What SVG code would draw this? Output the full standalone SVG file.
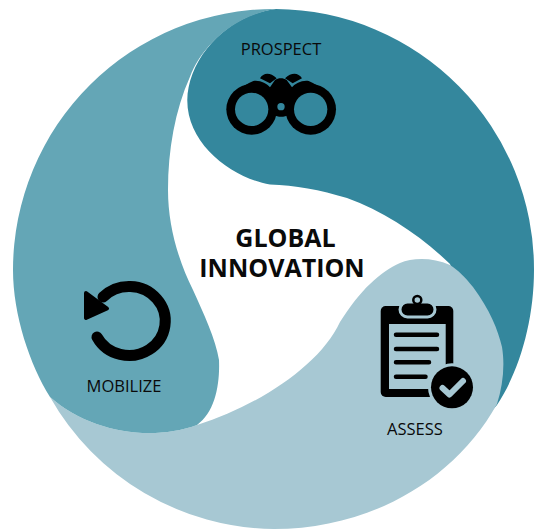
<svg xmlns="http://www.w3.org/2000/svg" width="535" height="529" viewBox="0 0 535 529">
<style>
text{font-family:"Open Sans","Liberation Sans",sans-serif;fill:#0a0a0a;text-anchor:middle}
.lab{font-size:16.500px;font-weight:500}
.title{font-size:25px;font-weight:700}
.ink{fill:#000}
.ln{stroke:#000;stroke-width:4.5;stroke-linecap:round;fill:none}
</style>
<g id="connectors"></g>
<g id="prospect">
<path d="M276 9A260 260 0 0 1 534 270C534 320 520 370 497 405L488 415L470 320L450 264C420 235 385 212 347 198C320 190 295 185 270 184.500C233 178 187 145 187.300 100C188 60 225 15 276 9Z" fill="#34879D"/>
<g id="binoculars-icon" transform="translate(170 0) scale(.33333)">
<path class="ink" d="M172 320C180 285 215 258 250 243C270 240 290 250 300 262L315 240C325 233 340 233 350 240L366 262C376 250 396 240 416 243C450 258 485 285 495 320L490 340L422 328L355 345C345 352 322 352 312 345L245 328L175 340Z"/>
<path class="ink" d="M270 235C280 218 300 216 320 235L300 250ZM345 235C365 216 385 218 396 235L368 250Z"/>
<circle cx="245" cy="328" r="76"/>
<circle cx="422" cy="328" r="76"/>
<circle cx="245" cy="328" r="50" fill="#34879D"/>
<circle cx="422" cy="328" r="50" fill="#34879D"/>
<circle cx="333" cy="320" r="11" fill="#34879D"/>
</g>
<text class="lab" x="281" y="55">PROSPECT</text>
</g>
<g id="assess">
<path d="M50 397A260 260 0 0 0 274 529C370 529 455 480 497 404C503 385 505 365 502 347C498 330 490 310 473 287C465 277 458 270 450 265C432 257 412 258 400 263C380 272 360 290 340 322C320 365 260 405 197 425C150 442 90 432 50 397Z" fill="#A7C8D3"/>
<rect x="380.700" y="306" width="72.600" height="91" rx="5" class="ink"/>
<rect x="389" y="324" width="56.700" height="65" style="fill:#A7C8D3"/>
<rect x="400" y="302" width="35" height="15" rx="7.500" class="ink" stroke="#A7C8D3" stroke-width="3"/>
<circle cx="417.300" cy="300" r="4" fill="none" stroke="#000" stroke-width="2.500"/>
<path class="ln" d="M396 334.700H437M396 349H437M396 362.300H429M396 376.700H425.500"/>
<circle cx="452" cy="387.300" r="24" fill="#A7C8D3"/>
<circle cx="452" cy="387.300" r="21"/>
<path d="M442.500 388L449.500 394.500L463 381" fill="none" stroke="#A7C8D3" stroke-width="6" stroke-linecap="round" stroke-linejoin="round"/>
<text class="lab" x="415" y="435">ASSESS</text>
</g>
<g id="mobilize">
<path d="M276 9A261 261 0 0 0 13 270C13 315 30 365 50 397C90 432 150 442 197 425C215 412 220 385 219 360C216 340 203 312 193 290C178 260 168 225 168 190C168 150 175 110 190 76.700C200 50 230 16 276 9Z" fill="#64A6B6"/>
<path d="M97 337A36.200 34.500 0 1 0 103 297" fill="none" stroke="#000" stroke-width="11" stroke-linecap="round"/>
<path d="M86 293L107 308.500L86 318Z" class="ink" stroke="#000" stroke-width="4" stroke-linejoin="round"/>
<text class="lab" x="124" y="391.500">MOBILIZE</text>
</g>
<g id="center">
<text class="title" x="285.500" y="247">GLOBAL</text>
<text class="title" x="282" y="277">INNOVATION</text>
</g>
</svg>
